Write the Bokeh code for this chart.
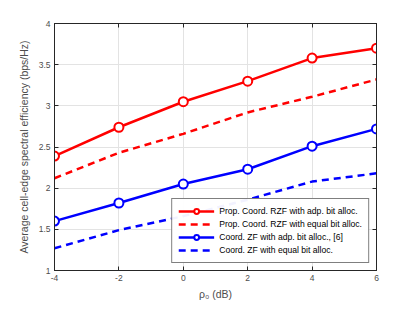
from bokeh.plotting import figure
from bokeh.models import Legend, LegendItem, LinearAxis, Range1d, FixedTicker
from bokeh.embed import file_html
from bokeh.resources import INLINE

rho = [-4, -2, 0, 2, 4, 6]
rzf_adp = [2.39, 2.74, 3.05, 3.30, 3.58, 3.70]
rzf_eq = [2.12, 2.43, 2.66, 2.92, 3.11, 3.32]
zf_adp = [1.60, 1.82, 2.05, 2.23, 2.51, 2.72]
zf_eq = [1.27, 1.49, 1.66, 1.86, 2.08, 2.18]
labels = ["Prop. Coord. RZF with adp. bit alloc.",
          "Prop. Coord. RZF with equal bit alloc.",
          "Coord. ZF with adp. bit alloc., [6]",
          "Coord. ZF with equal bit alloc."]
xticks = [-4, -2, 0, 2, 4, 6]
xtick_labels = ["-4", "-2", "0", "2", "4", "6"]
yticks = [1, 1.5, 2, 2.5, 3, 3.5, 4]

FONT = "Liberation Sans"
AX = "#262626"
TXT = "#4d4d4d"

p = figure(width=407, height=302, output_backend="svg", toolbar_location=None,
           x_range=Range1d(-4, 6), y_range=Range1d(1, 4))
p.min_border_left = 54
p.min_border_right = 31
p.min_border_top = 23
p.min_border_bottom = 27
p.outline_line_color = AX
p.outline_line_width = 1
p.background_fill_color = "white"
p.border_fill_color = "white"

for ax in (p.xaxis[0], p.yaxis[0]):
    ax.axis_line_color = AX
    ax.major_tick_line_color = AX
    ax.major_tick_in = 4
    ax.major_tick_out = 0
    ax.minor_tick_line_color = None
    ax.major_label_text_font = FONT
    ax.major_label_text_font_size = "8.5px"
    ax.major_label_text_color = TXT
    ax.axis_label_text_font = FONT
    ax.axis_label_text_font_style = "normal"
    ax.axis_label_text_color = TXT
    ax.major_label_standoff = 4
p.xaxis[0].ticker = FixedTicker(ticks=xticks)
p.xaxis[0].major_label_overrides = {t: s for t, s in zip(xticks, xtick_labels)}
p.yaxis[0].ticker = FixedTicker(ticks=yticks)
p.xaxis[0].axis_label = "ρ₀ (dB)"
p.xaxis[0].axis_label_text_font_size = "10.5px"
p.xaxis[0].axis_label_standoff = 4
p.yaxis[0].axis_label = "Average cell-edge spectral efficiency (bps/Hz)"
p.yaxis[0].axis_label_text_font_size = "10.5px"
p.yaxis[0].axis_label_standoff = 6

for loc in ("right", "above"):
    a = LinearAxis(ticker=FixedTicker(ticks=yticks if loc == "right" else xticks))
    a.axis_line_color = AX
    a.major_tick_line_color = AX
    a.major_tick_in = 4
    a.major_tick_out = 0
    a.minor_tick_line_color = None
    a.major_label_text_color = None
    a.major_label_text_font_size = "1px"
    a.major_label_standoff = 0
    p.add_layout(a, loc)

p.grid.grid_line_color = "#e3e3e3"
p.xgrid.ticker = FixedTicker(ticks=xticks)
p.ygrid.ticker = FixedTicker(ticks=yticks)

LW = 2.5
r1 = p.line(rho, rzf_adp, color="red", line_width=LW)
m1 = p.scatter(rho, rzf_adp, marker="circle", size=9, line_color="red", line_width=2, fill_color="white")
r2 = p.line(rho, rzf_eq, color="red", line_width=LW, line_dash="7 5")
r3 = p.line(rho, zf_adp, color="blue", line_width=LW)
m3 = p.scatter(rho, zf_adp, marker="circle", size=9, line_color="blue", line_width=2, fill_color="white")
r4 = p.line(rho, zf_eq, color="blue", line_width=LW, line_dash="7 5")

legend = Legend(items=[
    LegendItem(label=labels[0], renderers=[r1, m1]),
    LegendItem(label=labels[1], renderers=[r2]),
    LegendItem(label=labels[2], renderers=[r3, m3]),
    LegendItem(label=labels[3], renderers=[r4]),
], location="bottom_right")
legend.label_text_font = FONT
legend.label_text_font_size = "8.6px"
legend.label_text_color = "black"
legend.border_line_color = "black"
legend.border_line_width = 1
legend.glyph_width = 36
legend.glyph_height = 12
legend.label_standoff = 5
legend.label_height = 12
legend.spacing = 1
legend.padding = 6
legend.margin = 7
p.add_layout(legend)

open("out.html", "w").write(file_html(p, INLINE))
